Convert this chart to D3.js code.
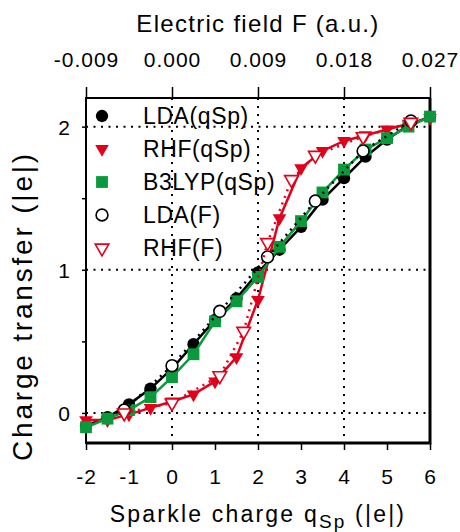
<!DOCTYPE html>
<html>
<head>
<meta charset="utf-8">
<script src="https://cdn.jsdelivr.net/npm/d3@7"></script>
<style>
body { margin: 0; background: #fff; }
svg { display: block; font-family: "Liberation Sans", Arial, sans-serif; }
</style>
</head>
<body>
<svg width="460" height="532"></svg>
<script>
// Sparkle charge runs
const qSp = [-2, -1.5, -1, -0.5, 0, 0.5, 1, 1.5, 2, 2.5, 3, 3.5, 4, 4.5, 5, 5.5, 6];
const ldaQ = [-0.09, -0.03, 0.06, 0.17, 0.31, 0.48, 0.65, 0.80, 0.98, 1.14, 1.30, 1.49, 1.64, 1.79, 1.91, 2.01, 2.07];
const rhfQ = [-0.05, -0.05, -0.01, 0.035, 0.08, 0.13, 0.22, 0.39, 0.79, 1.36, 1.71, 1.83, 1.90, 1.94, 1.98, 2.02, 2.06];
const b3lypQ = [-0.10, -0.04, 0.02, 0.11, 0.25, 0.41, 0.64, 0.78, 0.95, 1.16, 1.34, 1.54, 1.70, 1.84, 1.92, 2.00, 2.07];

// Electric field runs
const fieldLda = [-0.005, 0, 0.005, 0.01, 0.015, 0.02, 0.025];
const ldaF = [0.02, 0.33, 0.71, 1.09, 1.48, 1.83, 2.04];
const fieldRhf = [-0.005, 0, 0.005, 0.0075, 0.01, 0.0125, 0.015, 0.02, 0.025];
const rhfF = [0.0, 0.07, 0.26, 0.57, 1.19, 1.63, 1.80, 1.93, 2.03];

const qTicks = [-2, -1, 0, 1, 2, 3, 4, 5, 6];
const fTicks = [-0.009, 0, 0.009, 0.018, 0.027];
const yTicks = [0, 0.5, 1, 1.5, 2];
const legendNames = ["LDA(qSp)", "RHF(qSp)", "B3LYP(qSp)", "LDA(F)", "RHF(F)"];

const red = "#e2001a", green = "#0a9a3c";

const svg = d3.select("svg");
const plotL = 86, plotR = 430, plotT = 98, plotB = 443;

const x = d3.scaleLinear().domain([-2, 6]).range([plotL, plotR]);
const xF = d3.scaleLinear().domain([-0.009, 0.027]).range([plotL, plotR]);
const y = d3.scaleLinear().domain([-0.21, 2.2]).range([plotB, plotT]);

// plain hyphen for negatives, like the original
const fmt = f => d => d3.format(f)(d).replace("\u2212", "-");

// dotted grid
const grid = svg.append("g").attr("stroke", "#000").attr("stroke-width", 2);
grid.selectAll(".gx").data([0, 2, 4]).enter().append("line")
    .attr("x1", d => x(d)).attr("x2", d => x(d))
    .attr("y1", plotT).attr("y2", plotB)
    .attr("stroke-dasharray", "2,6");
grid.selectAll(".gy").data([0, 1, 2]).enter().append("line")
    .attr("x1", plotL).attr("x2", plotR)
    .attr("y1", d => y(d)).attr("y2", d => y(d))
    .attr("stroke-dasharray", "2,5.5");

// axes
const xAxis = svg.append("g")
    .attr("transform", `translate(0,${plotB})`)
    .call(d3.axisBottom(x).tickValues(qTicks).tickSize(7).tickFormat(fmt("d")));
xAxis.selectAll("text").attr("dy", null).attr("y", 41);

const topAxis = svg.append("g")
    .attr("transform", `translate(0,${plotT})`)
    .call(d3.axisTop(xF).tickValues(fTicks).tickSize(11).tickFormat(fmt(".3f")));
topAxis.selectAll("text").attr("dy", null).attr("y", -31);

const yAxis = svg.append("g")
    .attr("transform", `translate(${plotL},0)`)
    .call(d3.axisLeft(y).tickValues(yTicks).tickSize(4)
        .tickFormat(d => Number.isInteger(d) ? d : ""));
yAxis.selectAll("text").attr("x", -15).attr("dy", "0.36em");

[xAxis, topAxis, yAxis].forEach(a => {
    a.select(".domain").remove();
    a.selectAll("line").attr("stroke-width", 1.5);
    a.selectAll("text")
        .attr("font-size", 21)
        .attr("letter-spacing", 1)
        .attr("fill", "#000");
});

// frame
svg.append("rect")
    .attr("x", plotL).attr("y", plotT)
    .attr("width", plotR - plotL).attr("height", plotB - plotT)
    .attr("fill", "none").attr("stroke", "#000").attr("stroke-width", 2);
svg.append("path")
    .attr("d", `M${plotL},${plotB}H${plotR}V${plotT}`)
    .attr("fill", "none").attr("stroke", "#000").attr("stroke-width", 3);

// series
const series = [
    { xs: qSp, ys: ldaQ, sx: x, color: "#000", shape: d3.symbolCircle, size: 120, fill: "#000", dash: null, rot: 0 },
    { xs: qSp, ys: rhfQ, sx: x, color: red, shape: d3.symbolTriangle, size: 80, fill: red, dash: null, rot: 180 },
    { xs: qSp, ys: b3lypQ, sx: x, color: green, shape: d3.symbolSquare, size: 140, fill: green, dash: null, rot: 0 },
    { xs: fieldLda, ys: ldaF, sx: xF, color: "#000", shape: d3.symbolCircle, size: 110, fill: "#fff", dash: "2,5", rot: 0 },
    { xs: fieldRhf, ys: rhfF, sx: xF, color: red, shape: d3.symbolTriangle, size: 80, fill: "#fff", dash: "2,5", rot: 180 }
];

series.forEach(s => {
    const pts = s.xs.map((v, i) => [s.sx(v), y(s.ys[i])]);
    svg.append("path")
        .attr("d", d3.line()(pts))
        .attr("fill", "none")
        .attr("stroke", s.color)
        .attr("stroke-width", 2.5)
        .attr("stroke-dasharray", s.dash);
    svg.append("g").selectAll("path")
        .data(pts)
        .enter().append("path")
        .attr("d", d3.symbol().type(s.shape).size(s.size))
        .attr("transform", d => `translate(${d[0]},${d[1]}) rotate(${s.rot})`)
        .attr("fill", s.fill)
        .attr("stroke", s.color)
        .attr("stroke-width", s.fill === "#fff" ? 1.6 : 0);
});

// legend
const legend = svg.append("g");
legendNames.forEach((name, i) => {
    const s = series[i];
    const ly = 116 + i * 33;
    legend.append("path")
        .attr("d", d3.symbol().type(s.shape).size(s.size))
        .attr("transform", `translate(102,${ly}) rotate(${s.rot})`)
        .attr("fill", s.fill)
        .attr("stroke", s.color)
        .attr("stroke-width", s.fill === "#fff" ? 1.6 : 0);
    legend.append("text")
        .attr("x", 143).attr("y", ly).attr("dy", "0.36em")
        .attr("font-size", 23)
        .attr("letter-spacing", 0.6)
        .text(name);
});

// axis titles
svg.append("text")
    .attr("x", 258).attr("y", 32)
    .attr("text-anchor", "middle")
    .attr("font-size", 24)
    .attr("letter-spacing", 1.3)
    .text("Electric field F (a.u.)");

const xl = svg.append("text")
    .attr("x", 258).attr("y", 522)
    .attr("text-anchor", "middle")
    .attr("font-size", 23)
    .attr("letter-spacing", 2.2);
xl.append("tspan").text("Sparkle charge q");
xl.append("tspan").attr("font-size", 19).attr("dy", 6).text("Sp");
xl.append("tspan").attr("dy", -6).text(" (|e|)");

svg.append("text")
    .attr("transform", "translate(32,306) rotate(-90)")
    .attr("text-anchor", "middle")
    .attr("font-size", 28)
    .attr("letter-spacing", 2.8)
    .text("Charge transfer (|e|)");
</script>
</body>
</html>
